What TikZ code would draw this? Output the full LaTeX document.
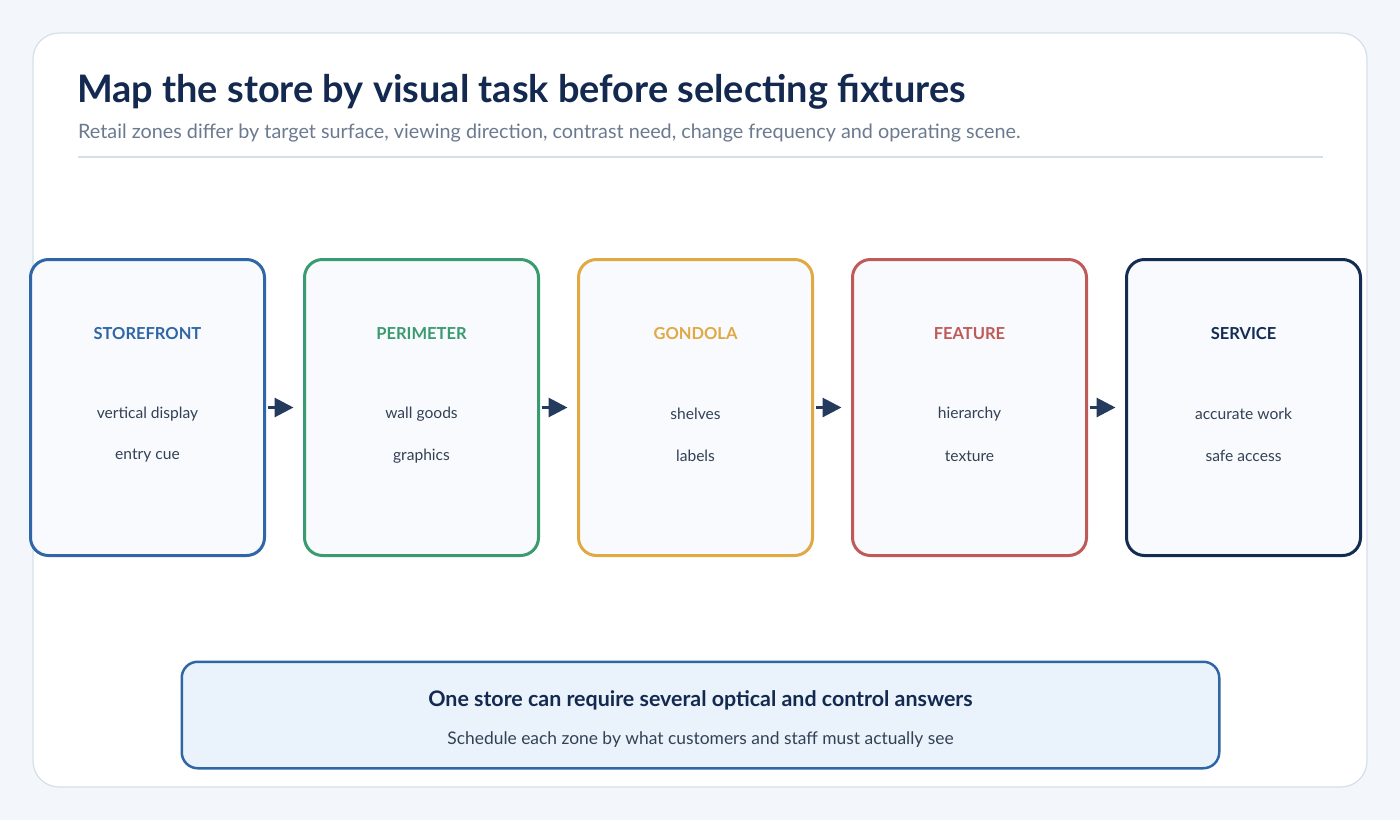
\documentclass[tikz,border=0pt]{standalone}
\usepackage{fontspec}
\setmainfont{Lato}
\usetikzlibrary{arrows.meta, positioning}
\definecolor{pagebg}{HTML}{F3F7FB}
\definecolor{cardline}{HTML}{D6DFE9}
\definecolor{inkblue}{HTML}{13294F}
\definecolor{subgray}{HTML}{6B7A8F}
\definecolor{itemgray}{HTML}{334155}
\definecolor{arrowink}{HTML}{243B5E}
\definecolor{zonefill}{HTML}{F8FAFD}
\definecolor{storeblue}{HTML}{2F66A5}
\definecolor{perigreen}{HTML}{3A9A70}
\definecolor{gondgold}{HTML}{E0A943}
\definecolor{featred}{HTML}{C05A58}
\definecolor{servnavy}{HTML}{142B52}
\definecolor{notefill}{HTML}{EAF2FB}

\tikzset{
  zonebox/.style={draw=#1, fill=zonefill, line width=3pt, rounded corners=18pt,
    minimum width=234pt, minimum height=296pt},
  zonehead/.style={font=\fontsize{16.5}{19}\selectfont\bfseries, text=#1},
  zoneitem/.style={font=\fontsize{15.6}{18}\selectfont, text=itemgray},
  flow/.style={draw=arrowink, line width=3pt,
    -{Triangle[length=19pt, width=19pt]}, shorten >=9.5pt, shorten <=1.5pt}
}

\begin{document}
\begin{tikzpicture}[x=1pt, y=-1pt]
  % page and card
  \fill[pagebg] (0,0) rectangle (1400,820);
  \draw[cardline, fill=white, line width=1.2pt, rounded corners=26pt] (33,33) rectangle (1367,787);
  \useasboundingbox (0,0) rectangle (1400,820);

  % heading
  \node[anchor=base west, inner sep=0pt, text=inkblue,
    font=\fontsize{37.9}{42}\selectfont\bfseries] (title) at (77,102)
    {Map the store by visual task before selecting fixtures};
  \node[anchor=base west, inner sep=0pt, text=subgray,
    font=\fontsize{19.8}{23}\selectfont] (subtitle) at (78,138)
    {Retail zones differ by target surface, viewing direction, contrast need, change frequency and operating scene.};
  \draw[cardline, line width=1.5pt] (78,157) -- (1323,157);

  % zones
  \begin{scope}[node distance=37pt]
    \node[zonebox=storeblue] (store) at (147.5,407.5) {};
    \node[zonebox=perigreen, right=of store] (peri) {};
    \node[zonebox=gondgold, right=of peri] (gond) {};
    \node[zonebox=featred, right=of gond] (feat) {};
    \node[zonebox=servnavy, right=of feat] (serv) {};
  \end{scope}

  \node[zonehead=storeblue] (storehead) at ([yshift=73.5pt]store.center) {STOREFRONT};
  \node[zoneitem] (storeone) at ([yshift=-6.5pt]store.center) {vertical display};
  \node[zoneitem] (storetwo) at ([yshift=-48.5pt]store.center) {entry cue};

  \node[zonehead=perigreen] (perihead) at ([yshift=73.5pt]peri.center) {PERIMETER};
  \node[zoneitem] (perione) at ([yshift=-6.5pt]peri.center) {wall goods};
  \node[zoneitem] (peritwo) at ([yshift=-48.5pt]peri.center) {graphics};

  \node[zonehead=gondgold] (gondhead) at ([yshift=73.5pt]gond.center) {GONDOLA};
  \node[zoneitem] (gondone) at ([yshift=-6.5pt]gond.center) {shelves};
  \node[zoneitem] (gondtwo) at ([yshift=-48.5pt]gond.center) {labels};

  \node[zonehead=featred] (feathead) at ([yshift=73.5pt]feat.center) {FEATURE};
  \node[zoneitem] (featone) at ([yshift=-6.5pt]feat.center) {hierarchy};
  \node[zoneitem] (feattwo) at ([yshift=-48.5pt]feat.center) {texture};

  \node[zonehead=servnavy] (servhead) at ([yshift=73.5pt]serv.center) {SERVICE};
  \node[zoneitem] (servone) at ([yshift=-6.5pt]serv.center) {accurate work};
  \node[zoneitem] (servtwo) at ([yshift=-48.5pt]serv.center) {safe access};

  \draw[flow] (store) -- (peri);
  \draw[flow] (peri) -- (gond);
  \draw[flow] (gond) -- (feat);
  \draw[flow] (feat) -- (serv);

  % takeaway
  \node[draw=storeblue, fill=notefill, line width=2.5pt, rounded corners=16pt,
    minimum width=1037.5pt, minimum height=106.5pt] (note) at (700.5,715) {};
  \node[text=inkblue, font=\fontsize{21.4}{25}\selectfont\bfseries] (notehead)
    at ([yshift=15pt]note.center) {One store can require several optical and control answers};
  \node[text=itemgray, font=\fontsize{17.4}{21}\selectfont] (notetext)
    at ([yshift=-24.5pt]note.center) {Schedule each zone by what customers and staff must actually see};
\end{tikzpicture}
\end{document}
